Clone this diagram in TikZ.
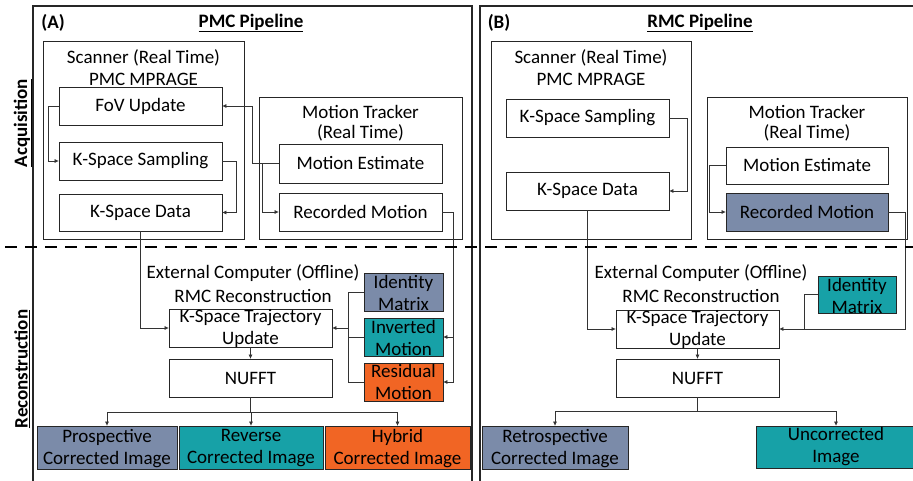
\documentclass[tikz,border=0pt]{standalone}
\usepackage{fontspec}
\setmainfont{Carlito}
\usetikzlibrary{arrows.meta}
\definecolor{slate}{HTML}{7B8BA9}
\definecolor{tealc}{HTML}{17A1A7}
\definecolor{orng}{HTML}{F16524}
\begin{document}
\begin{tikzpicture}[x=1pt,y=-1pt,
  every node/.style={font=\fontsize{19}{22}\selectfont, text=black},
  bx/.style 2 args={draw=black!85, line width=0.8pt, inner sep=0pt, minimum width=#1, minimum height=#2},
  two/.style={align=center, inner sep=0pt},
  panel/.style={draw=black!85, line width=1.5pt},
  arr/.style={draw=black!80, line width=0.7pt, -{Triangle[length=4pt,width=3.5pt]}},
  ln/.style={draw=black!80, line width=0.7pt},
  sep/.style={line width=2pt, dash pattern=on 12pt off 8pt}]
\clip (0,0) rectangle (913,481);
\fill[white] (0,0) rectangle (913,481);
% panels
\draw[panel] (33,6) rectangle (472,495);
\draw[panel] (480,6) rectangle (925,495);
\node at (53,23) {\textbf{(A)}};
\node at (251,23) {\textbf{\underline{PMC Pipeline}}};
\node at (499,23) {\textbf{(B)}};
\node at (700,23) {\textbf{\underline{RMC Pipeline}}};
\node[rotate=90] at (23,123) {\textbf{\underline{Acquisition}}};
\node[rotate=90] at (22,369) {\textbf{\underline{Reconstruction}}};
% ---------- Panel A acquisition
\node[bx={201}{198}] (scanA) at (143.5,140) {};
\node at (143.5,58) {Scanner (Real Time)};
\node at (143.5,79) {PMC MPRAGE};
\node[bx={163}{38}] (fov) at (140.5,106) {FoV Update};
\node[bx={163}{38}] (kss) at (140.5,161) {K-Space Sampling};
\node[bx={163}{37}] (ksd) at (140.5,212.5) {K-Space Data};
\node[bx={203}{142}] (trkA) at (360.5,168) {};
\node at (360.5,112) {Motion Tracker};
\node at (360.5,133) {(Real Time)};
\node[bx={163}{39}] (me) at (360.5,163.5) {Motion Estimate};
\node[bx={163}{38}] (rm) at (360.5,212) {Recorded Motion};
% ---------- Panel A reconstruction
\node at (253,273) {External Computer (Offline)};
\node at (253,296) {RMC Reconstruction};
\node[bx={163}{38}] (traj) at (250.5,328) {};
\node[two] at (traj) {K-Space Trajectory\\Update};
\node[bx={163}{38}] (nufft) at (250.5,378) {NUFFT};
\node[bx={79}{38}, fill=slate] (im) at (403.5,292) {};
\node[two] at (403.5,292.5) {Identity\\Matrix};
\node[bx={79}{38}, fill=tealc] (inv) at (403.5,337) {};
\node[two] at (403.5,337.5) {Inverted\\Motion};
\node[bx={79}{38}, fill=orng] (res) at (403.5,382) {};
\node[two] at (403.5,382) {Residual\\Motion};
\node[bx={140}{43}, fill=slate] (pci) at (107,447.5) {};
\node[two] at (107,448.5) {Prospective\\Corrected Image};
\node[bx={144}{43}, fill=tealc] (rci) at (251,447.5) {};
\node[two] at (251,448.5) {Reverse\\Corrected Image};
\node[bx={145}{43}, fill=orng] (hci) at (397.5,447.5) {};
\node[two] at (397.5,448.5) {Hybrid\\Corrected Image};
% ---------- Panel B acquisition
\node[bx={200}{198}] (scanB) at (591,140) {};
\node at (591,58) {Scanner (Real Time)};
\node at (591,79) {PMC MPRAGE};
\node[bx={163}{38}] (kss2) at (587.5,118) {K-Space Sampling};
\node[bx={163}{38}] (ksd2) at (587.5,191) {K-Space Data};
\node[bx={200}{142}] (trkB) at (807,168) {};
\node at (807,112) {Motion Tracker};
\node at (807,133) {(Real Time)};
\node[bx={162}{37}] (me2) at (807,165.5) {Motion Estimate};
\node[bx={162}{38}, fill=slate] (rm2) at (807,212) {Recorded Motion};
% ---------- Panel B reconstruction
\node at (701,273) {External Computer (Offline)};
\node at (701,296) {RMC Reconstruction};
\node[bx={163}{38}] (traj2) at (697.5,329) {};
\node[two] at (traj2) {K-Space Trajectory\\Update};
\node[bx={163}{38}] (nufft2) at (697.5,378) {NUFFT};
\node[bx={78}{37}, fill=tealc] (im2) at (857,294.5) {};
\node[two] at (857,296) {Identity\\Matrix};
\node[bx={146}{43}, fill=slate] (ret) at (555,447.5) {};
\node[two] at (555,448.5) {Retrospective\\Corrected Image};
\node[bx={160}{42}, fill=tealc] (unc) at (836,447) {};
\node[two] at (836,447) {Uncorrected\\Image};
% ---------- helper columns
\coordinate (a1) at (252,0);
\coordinate (a2) at (262,0);
\coordinate (a3) at (48,0);
\coordinate (a4) at (236,0);
\coordinate (a5) at (453,0);
\coordinate (a6) at (348,0);
\coordinate (busA) at (0,412);
\coordinate (b1) at (687,0);
\coordinate (b2) at (709,0);
\coordinate (b3) at (905,0);
\coordinate (b4) at (804,0);
\coordinate (busB) at (0,411);
% ---------- connectors A
\draw[arr] (me.west) -- (me.west -| a1) |- (fov.east);
\draw[arr] (me.west -| a2) |- (rm.west);
\draw[arr] (fov.west) -- (fov.west -| a3) |- (kss.west);
\draw[arr] (kss.east) -- (kss.east -| a4) |- (ksd.east);
\draw[arr] (ksd.south) |- (traj.west);
\draw[arr] (rm.east) -- (rm.east -| a5) |- (res.east);
\draw[arr] (inv.east -| a5) -- (inv.east);
\draw[ln] (im.west) -- (im.west -| a6) |- (res.west);
\draw[ln] (inv.west) -- (inv.west -| a6);
\draw[arr] (traj.east -| a6) -- (traj.east);
\draw[arr] (traj.south) -- (nufft.north);
\draw[ln] (nufft.south) -- (nufft.south |- busA);
\draw[ln] (pci.north |- busA) -- (hci.north |- busA);
\draw[arr] (pci.north |- busA) -- (pci.north);
\draw[arr] (rci.north |- busA) -- (rci.north);
\draw[arr] (hci.north |- busA) -- (hci.north);
% ---------- connectors B
\draw[arr] (kss2.east) -- (kss2.east -| b1) |- (ksd2.east);
\draw[arr] (me2.west) -- (me2.west -| b2) |- (rm2.west);
\draw[arr] (rm2.east) -- (rm2.east -| b3) |- (traj2.east);
\draw[ln] (im2.west) -- (im2.west -| b4) -- (traj2.east -| b4);
\draw[arr] (ksd2.south) |- (traj2.west);
\draw[arr] (traj2.south) -- (nufft2.north);
\draw[ln] (nufft2.south) -- (nufft2.south |- busB);
\draw[ln] (ret.north |- busB) -- (unc.north |- busB);
\draw[arr] (ret.north |- busB) -- (ret.north);
\draw[arr] (unc.north |- busB) -- (unc.north);
% ---------- separator
\draw[sep] (5,247) -- (913,247);
\end{tikzpicture}
\end{document}
